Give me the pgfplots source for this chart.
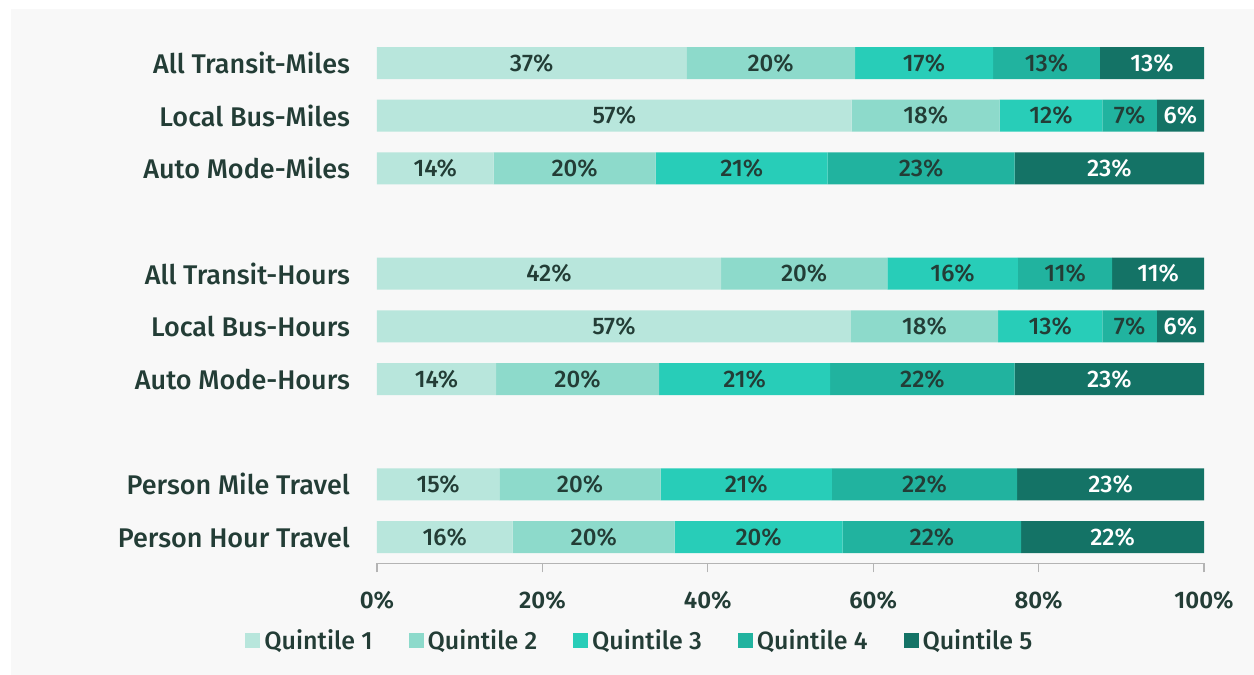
\documentclass[border=0pt]{standalone}
\usepackage{pgfplots}
\pgfplotsset{compat=1.18}
\usepackage{pgfplotstable}
\usepackage{fontspec}
\setmainfont{Fira Sans}[UprightFont=* Medium, BoldFont=* SemiBold]

\definecolor{bg}{HTML}{F8F8F8}
\definecolor{txt}{HTML}{233D36}
\definecolor{qa}{HTML}{B8E6DC}
\definecolor{qb}{HTML}{8DDACB}
\definecolor{qc}{HTML}{28CDB8}
\definecolor{qd}{HTML}{21B39F}
\definecolor{qe}{HTML}{147366}
\definecolor{axgray}{HTML}{B4B4B4}

% share of each quintile, rows from bottom (0) to top (9)
\pgfplotstableread{
y  q1   q2   q3   q4   q5
9  37.4 20.4 16.7 12.9 12.6
8  57.4 17.9 12.4 6.6  5.7
7  14.1 19.6 20.8 22.6 22.9
5  41.6 20.1 15.8 11.4 11.1
4  57.3 17.8 12.6 6.6  5.7
3  14.4 19.7 20.7 22.3 22.9
1  14.8 19.5 20.7 22.4 22.6
0  16.4 19.6 20.3 21.6 22.1
}\shares

\pgfplotsset{
  seg/.style 2 args={fill=#1, draw=none,
    visualization depends on={\thisrow{#2} \as \rawx},
    nodes near coords={\pgfmathprintnumber[fixed,precision=0]{\rawx}\%},
    nodes near coords align={anchor=center},
    every node near coord/.append style={text=txt, font=\fontsize{12}{14}\selectfont},
    /pgfplots/legend image code/.code={\fill[##1] (0pt,-3.75pt) rectangle (7.5pt,3.75pt);}},
}

\begin{document}
\begin{tikzpicture}
\fill[white] (0,0) rectangle (627pt,-337.5pt);
\fill[bg] (5.5pt,-4.5pt) rectangle (627pt,-337.5pt);
\begin{axis}[
  at={(188.5pt,-281.7pt)}, anchor=south west,
  scale only axis, width=413.5pt, height=263.35pt,
  xbar stacked, bar width=16pt,
  xmin=0, xmax=100, ymin=-0.5, ymax=9.5,
  axis x line*=bottom, axis y line*=left,
  y axis line style={draw=none},
  x axis line style={axgray, line width=0.8pt},
  xtick={0,20,...,100},
  xtick style={axgray, line width=0.6pt},
  tick align=outside, major tick length=4.5pt,
  ytick={0,1,3,4,5,7,8,9},
  yticklabels={Person Hour Travel, Person Mile Travel, Auto Mode-Hours,
    Local Bus-Hours, All Transit-Hours, Auto Mode-Miles, Local Bus-Miles,
    All Transit-Miles},
  y tick style={draw=none},
  xticklabel={\pgfmathprintnumber{\tick}\%},
  /pgf/number format/assume math mode=true,
  yticklabel style={font=\fontsize{13.5}{16}\selectfont, text=txt, xshift=-5.5pt},
  xticklabel style={font=\fontsize{12}{14}\selectfont\bfseries, text=txt, yshift=-6pt},
  legend columns=5,
  legend style={draw=none, fill=none, inner sep=0pt,
    at={(rel axis cs:-0.1596,-0.1473)}, anchor=west,
    font=\fontsize{12.5}{14}\selectfont, text=txt,
    /tikz/every even column/.append style={column sep=16pt}},
]
\addplot[seg={qa}{q1}] table[x=q1, y=y] {\shares};
\addlegendentry{Quintile 1}
\addplot[seg={qb}{q2}] table[x=q2, y=y] {\shares};
\addlegendentry{Quintile 2}
\addplot[seg={qc}{q3}] table[x=q3, y=y] {\shares};
\addlegendentry{Quintile 3}
\addplot[seg={qd}{q4}] table[x=q4, y=y] {\shares};
\addlegendentry{Quintile 4}
\addplot[seg={qe}{q5}, every node near coord/.append style={text=white}] table[x=q5, y=y] {\shares};
\addlegendentry{Quintile 5}
\end{axis}
\end{tikzpicture}
\end{document}
